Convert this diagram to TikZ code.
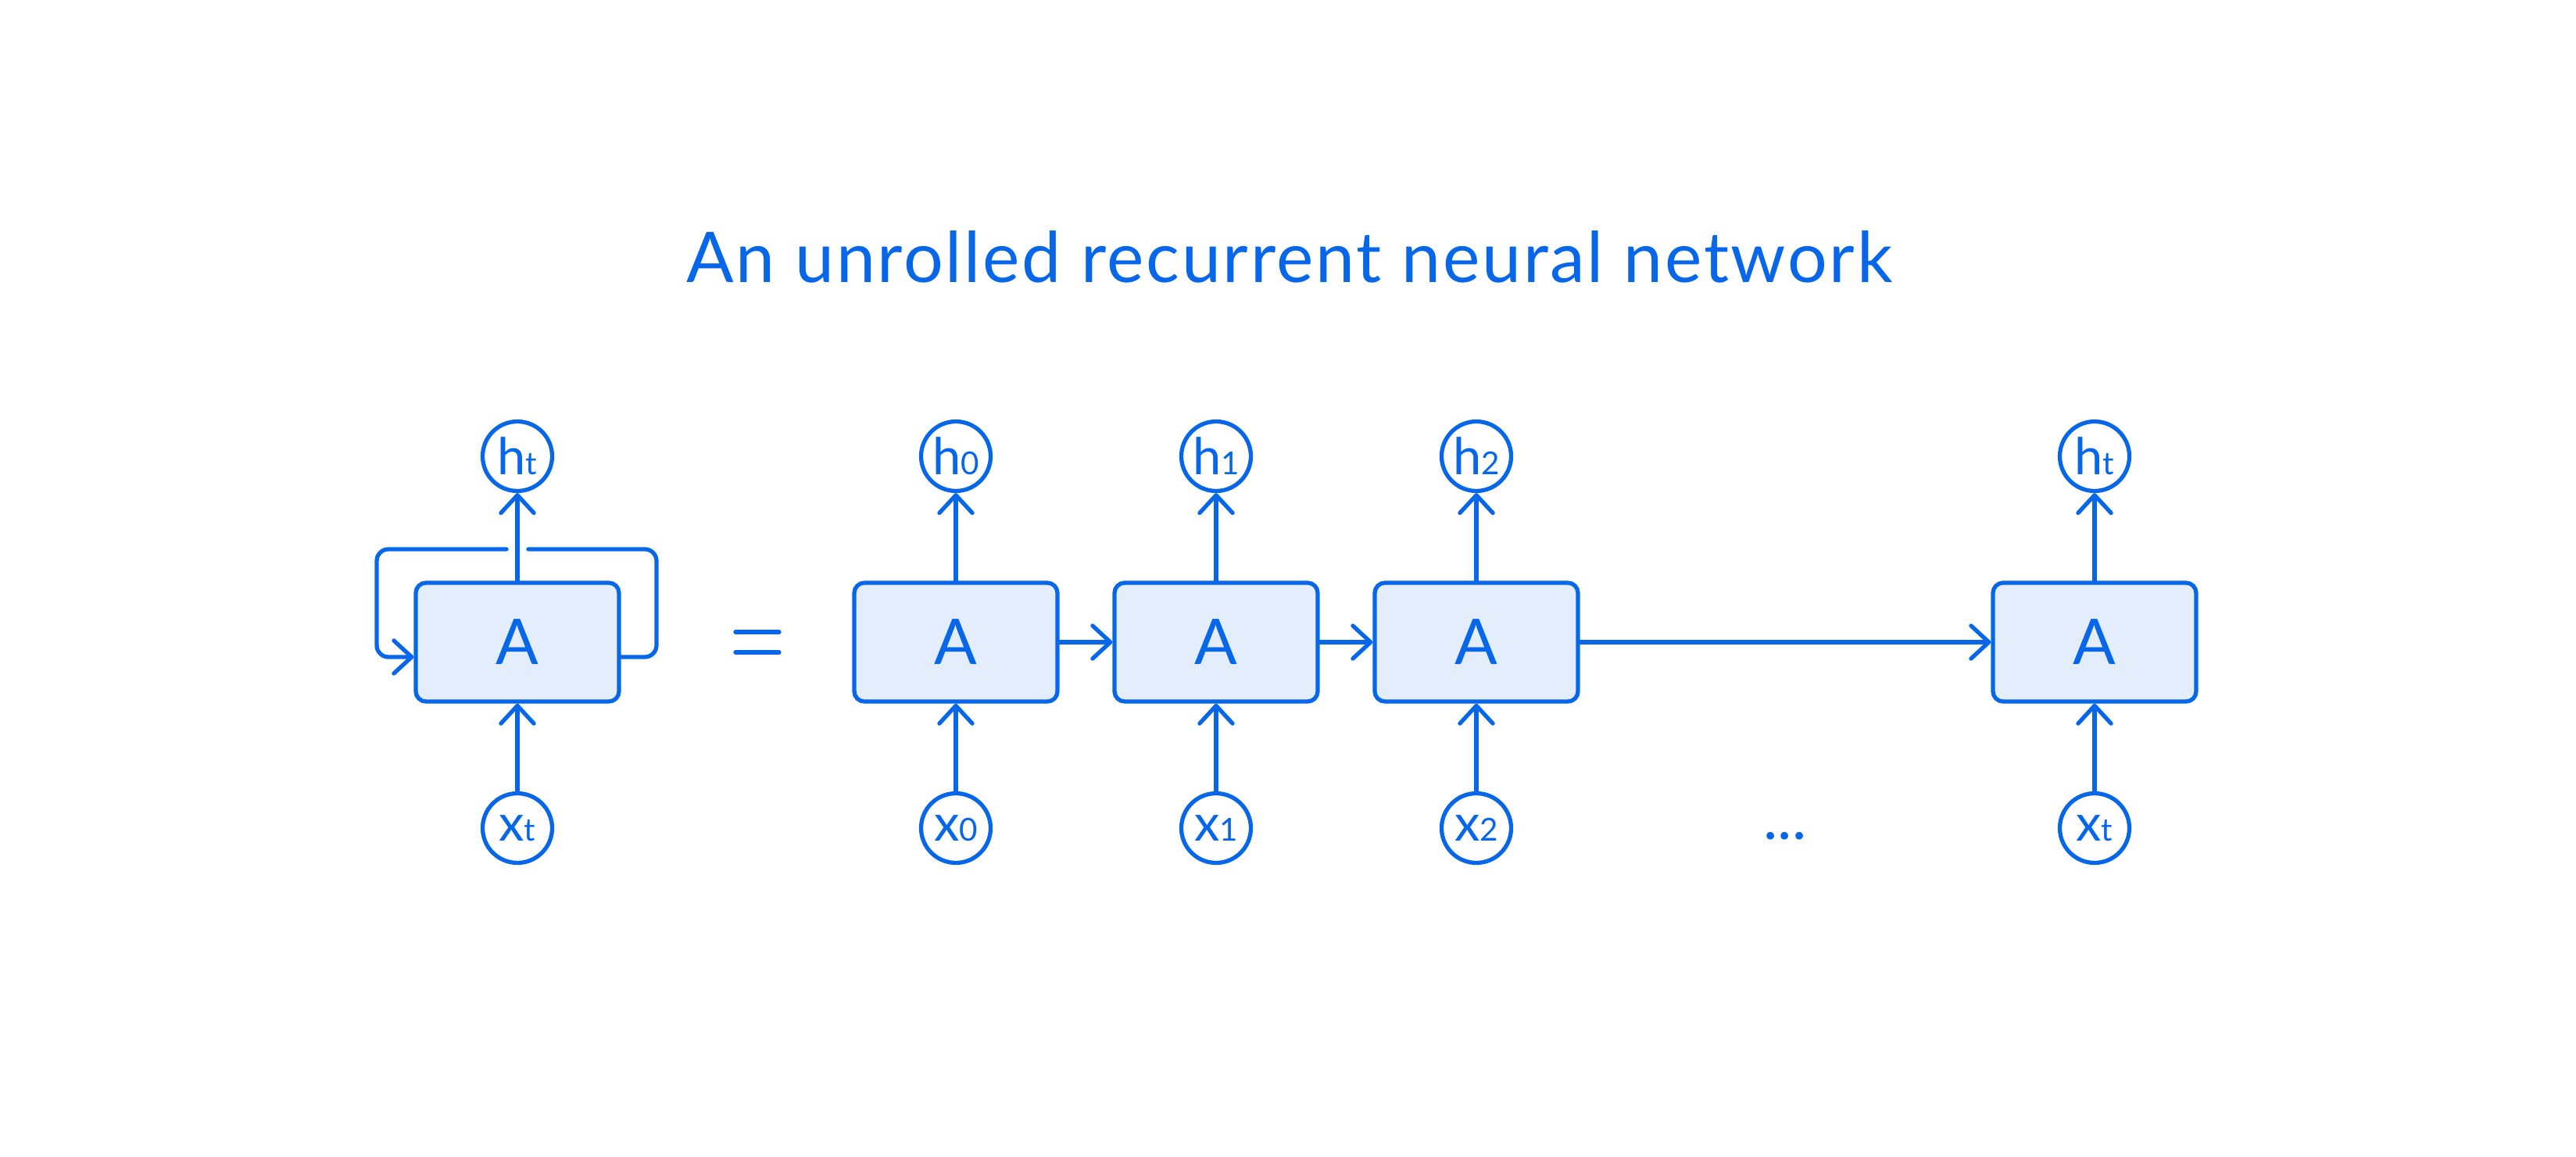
\documentclass[tikz,border=0pt]{standalone}
\usepackage{fontspec}
\setmainfont{Lato}
\usetikzlibrary{arrows.meta,calc}
\definecolor{rnnblue}{RGB}{7,103,232}
\definecolor{rnnfill}{RGB}{227,237,252}
\def\Hy{8.96}
\def\Ay{6.58}
\def\Xy{4.20}
\def\LoopTop{7.77}
\def\LoopLow{6.39}
\newcommand{\subtxt}[1]{{\fontsize{11.5}{11.5}\selectfont #1}}

\begin{document}
\begin{tikzpicture}[
  cell/.style={draw=rnnblue, fill=rnnfill, line width=1.5pt, rounded corners=0.13cm,
    minimum width=2.60cm, minimum height=1.52cm, text=rnnblue, font=\fontsize{23}{23}\selectfont},
  state/.style={circle, draw=rnnblue, line width=1.5pt, minimum size=0.89cm, inner sep=0pt,
    text=rnnblue, font=\fontsize{18.5}{18.5}\selectfont},
  link/.style={draw=rnnblue, line width=1.5pt, line cap=round},
  >={Straight Barb[length=6.5pt,width=12pt,round]}
]
\useasboundingbox (0,0) rectangle (32.96,14.80);

\node[anchor=base, text=rnnblue, font=\fontsize{25.5}{25.5}\selectfont\addfontfeatures{LetterSpace=3}] (title) at (16.50,11.18) {An unrolled recurrent neural network};

% folded network
\node[state] (ht) at (6.62,\Hy) {h\subtxt{t}};
\node[cell] (cell) at (6.62,\Ay) {A};
\node[state] (xt) at (6.62,\Xy) {x\subtxt{t}};

\draw[link,->] (xt) -- (cell);
\draw[link,->] (cell) -- (ht);

\coordinate (loopR) at (8.40,\LoopTop);
\coordinate (loopL) at (4.82,\LoopLow);
\draw[link, rounded corners=0.15cm] ([yshift=-0.19cm]cell.east) -| (loopR) -- ([xshift=0.14cm]cell.north |- loopR);
\draw[link, rounded corners=0.15cm, ->] ([xshift=-0.14cm]cell.north |- loopR) -| (loopL) -- ([yshift=-0.19cm]cell.west);

% equal sign
\coordinate (eq) at (9.69,\Ay);
\draw[link] ([shift={(-0.28,0.13)}]eq) -- ([shift={(0.28,0.13)}]eq);
\draw[link] ([shift={(-0.28,-0.13)}]eq) -- ([shift={(0.28,-0.13)}]eq);

% unrolled network
\node[state] (h0) at (12.23,\Hy) {h\subtxt{0}};
\node[cell] (a0) at (12.23,\Ay) {A};
\node[state] (x0) at (12.23,\Xy) {x\subtxt{0}};

\node[state] (h1) at (15.56,\Hy) {h\subtxt{1}};
\node[cell] (a1) at (15.56,\Ay) {A};
\node[state] (x1) at (15.56,\Xy) {x\subtxt{1}};

\node[state] (h2) at (18.89,\Hy) {h\subtxt{2}};
\node[cell] (a2) at (18.89,\Ay) {A};
\node[state] (x2) at (18.89,\Xy) {x\subtxt{2}};

\node[text=rnnblue, font=\fontsize{22}{22}\selectfont] (dots) at (22.84,4.10) {...};

\node[state] (hn) at (26.80,\Hy) {h\subtxt{t}};
\node[cell] (an) at (26.80,\Ay) {A};
\node[state] (xn) at (26.80,\Xy) {x\subtxt{t}};

\draw[link,->] (x0) -- (a0);
\draw[link,->] (a0) -- (h0);
\draw[link,->] (x1) -- (a1);
\draw[link,->] (a1) -- (h1);
\draw[link,->] (x2) -- (a2);
\draw[link,->] (a2) -- (h2);
\draw[link,->] (xn) -- (an);
\draw[link,->] (an) -- (hn);

\draw[link,->] (a0) -- (a1);
\draw[link,->] (a1) -- (a2);
\draw[link,->] (a2) -- (an);
\end{tikzpicture}
\end{document}
